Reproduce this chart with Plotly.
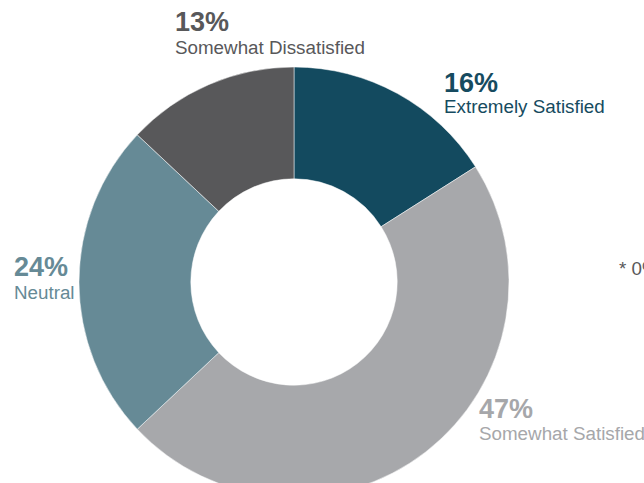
import plotly.graph_objects as go

# Survey satisfaction shares (percent), clockwise from 12 o'clock
categories = ["Extremely Satisfied", "Somewhat Satisfied", "Neutral", "Somewhat Dissatisfied"]
shares = [16, 47, 24, 13]
colors = ["#134a5f", "#a7a8ab", "#668a96", "#58585a"]
text_colors = ["#164b60", "#a6a7aa", "#668a96", "#58585a"]
footnote = "* 0% Extremely Dissatisfied"

W, H = 644, 500
FONT = "Liberation Sans, Arial, sans-serif"

# donut geometry in pixels (top-left origin)
cx, cy, r = 294, 282, 215

fig = go.Figure(
    go.Pie(
        labels=categories,
        values=shares,
        sort=False,
        direction="clockwise",
        rotation=0,
        hole=0.48,
        marker=dict(colors=colors, line=dict(color="#ffffff", width=0.5)),
        textinfo="none",
        hoverinfo="label+percent",
        showlegend=False,
        domain=dict(x=[(cx - r) / W, (cx + r) / W], y=[(H - cy - r) / H, (H - cy + r) / H]),
    )
)

# label anchor points: (left x, percent baseline, name baseline)
label_pos = {
    "Extremely Satisfied": (442, 92, 113),
    "Somewhat Satisfied": (477, 418, 440),
    "Neutral": (12, 276, 299),
    "Somewhat Dissatisfied": (173, 31, 54),
}

PCT_SIZE, NAME_SIZE = 27, 18.8


def py(y_px):
    return 1 - y_px / H


annotations = []
for name, val, tc in zip(categories, shares, text_colors):
    x, b1, b2 = label_pos[name]
    annotations.append(dict(
        x=x / W, y=py(b1 - 0.35 * PCT_SIZE), xref="paper", yref="paper",
        xanchor="left", yanchor="middle", showarrow=False,
        text=f"<b>{val}%</b>", font=dict(family=FONT, size=PCT_SIZE, color=tc),
    ))
    annotations.append(dict(
        x=x / W, y=py(b2 - 0.35 * NAME_SIZE), xref="paper", yref="paper",
        xanchor="left", yanchor="middle", showarrow=False,
        text=name, font=dict(family=FONT, size=NAME_SIZE, color=tc),
    ))

annotations.append(dict(
    x=617 / W, y=py(275 - 0.35 * NAME_SIZE), xref="paper", yref="paper",
    xanchor="left", yanchor="middle", showarrow=False,
    text=footnote, font=dict(family=FONT, size=NAME_SIZE, color="#58585a"),
))

fig.update_layout(
    width=W, height=H,
    margin=dict(l=0, r=0, t=0, b=0),
    paper_bgcolor="#ffffff",
    plot_bgcolor="#ffffff",
    annotations=annotations,
)

fig.write_html(
    "out.html",
    config={"displayModeBar": False, "responsive": False},
    post_script="document.documentElement.style.overflow='hidden';document.body.style.overflow='hidden';document.body.style.margin='0';",
)
